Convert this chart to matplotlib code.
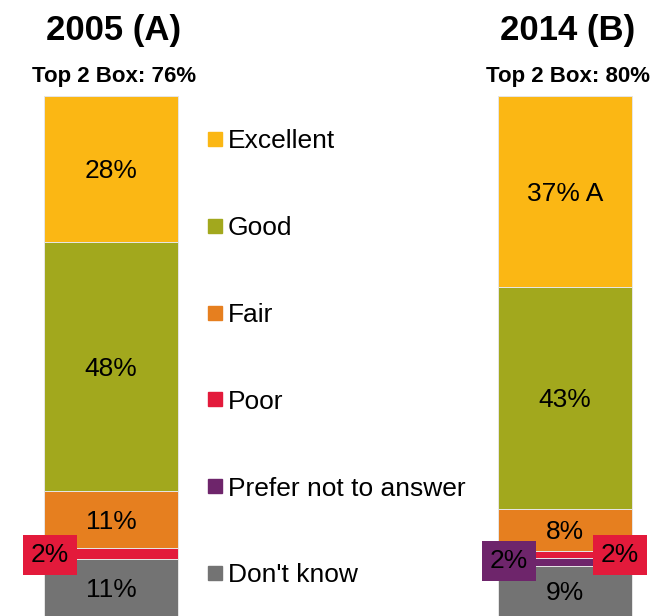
import matplotlib.pyplot as plt
from matplotlib.patches import Rectangle

plt.rcParams['font.family'] = ['Liberation Sans', 'DejaVu Sans']

# categories listed top to bottom as in the legend
categories = ["Excellent", "Good", "Fair", "Poor", "Prefer not to answer", "Don't know"]
colors = ["#FBB714", "#A2A81D", "#E67F1F", "#E31A3B", "#6E256B", "#737373"]

years = ["2005 (A)", "2014 (B)"]
top2 = ["Top 2 Box: 76%", "Top 2 Box: 80%"]

# segment heights (percent)
heights_2005 = [28, 48, 11, 2, 0, 11]
heights_2014 = [36.7, 42.7, 8.1, 1.4, 1.5, 9.6]
labels_2005 = ["28%", "48%", "11%", "2%", "", "11%"]
labels_2014 = ["37% A", "43%", "8%", "2%", "2%", "9%"]

W, H = 666, 616
fig = plt.figure(figsize=(W / 100, H / 100), dpi=100)
# bars run from y=96px to the bottom edge
ax = fig.add_axes([0, 0, 1, (H - 96) / H])
ax.set_xlim(-0.2445, 1.2225)
ax.set_ylim(0, 100)
ax.axis("off")

bar_w = 0.295
fs = 19
cap = 0.716 * fs / 2  # half cap height in points

# small segments get a boxed label outside the bar: (dx px, dy px)
box_offsets = {
    (0, "Poor"): (-61, -1),
    (1, "Poor"): (55, -2),
    (1, "Prefer not to answer"): (-56, -4),
}

for i, (hts, labs) in enumerate([(heights_2005, labels_2005), (heights_2014, labels_2014)]):
    bottom = 0
    for j in range(len(categories) - 1, -1, -1):
        h = hts[j]
        if h == 0:
            continue
        ax.bar(i, h, bottom=bottom, width=bar_w, color=colors[j],
               edgecolor="#e6e6e6", linewidth=0.7)
        mid = bottom + h / 2
        key = (i, categories[j])
        if key in box_offsets:
            dx, dy = box_offsets[key]
            ax.annotate(labs[j], (i, mid), xytext=(dx * 0.72, -dy * 0.72 - cap),
                        textcoords="offset points", ha="center", va="baseline",
                        fontsize=fs, color="black", zorder=5,
                        bbox=dict(boxstyle="square,pad=0.3", fc=colors[j], ec="none"))
        else:
            ax.annotate(labs[j], (i, mid), xytext=(0, -cap), textcoords="offset points",
                        ha="center", va="baseline", fontsize=fs, color="black")
        bottom += h

    xc = (ax.transData.transform((i, 0))[0]) / W
    fig.text(xc + 0.004, 1 - 40 / H, years[i], ha="center", va="baseline",
             fontsize=25, fontweight="bold")
    fig.text(xc + 0.004, 1 - 82 / H, top2[i], ha="center", va="baseline",
             fontsize=16, fontweight="bold")

# legend drawn by hand: square + label, rows 87px apart
for k, cat in enumerate(categories):
    yc = 139 + 86.8 * k
    fig.patches.append(Rectangle((208 / W, 1 - (yc + 7) / H), 14 / W, 14 / H,
                                 transform=fig.transFigure, color=colors[k]))
    fig.text(228 / W, 1 - (yc + 9.4) / H, cat, ha="left", va="baseline", fontsize=fs)

fig.savefig("out.png", dpi=100)
